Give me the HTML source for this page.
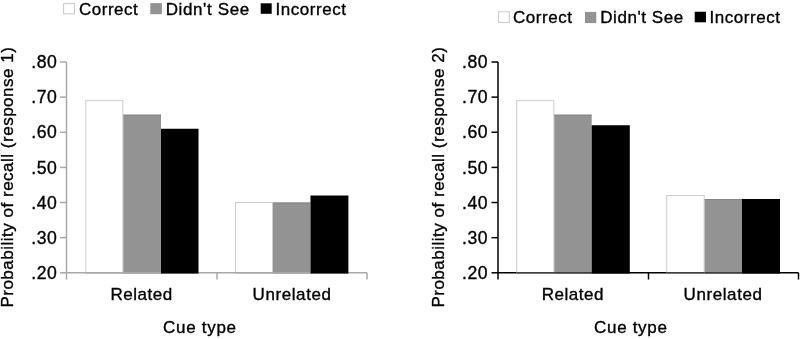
<!DOCTYPE html>
<html><head><meta charset="utf-8"><style>
html,body{margin:0;padding:0;background:#fff;width:800px;height:339px;overflow:hidden}
svg{display:block}
#w{width:800px;height:339px;background:#fff}
</style></head><body>
<div id="w">
<svg width="800" height="339" viewBox="0 0 800 339" font-family="'Liberation Sans', Arial, sans-serif" font-size="17" fill="#000">
<rect width="800" height="339" fill="#fff"/>
<rect x="63.60" y="3.60" width="10.90" height="10.30" fill="#fff" stroke="#c8c8c8" stroke-width="1"/>
<rect x="150.30" y="3.10" width="11.60" height="11.10" fill="#939393"/>
<rect x="260.70" y="3.30" width="11.00" height="10.50" fill="#000"/>
<text x="79.08" y="15.00" letter-spacing="0.492" stroke="#000" stroke-width="0.35">Correct</text>
<text x="165.68" y="15.00" letter-spacing="0.622" stroke="#000" stroke-width="0.35">Didn't See</text>
<text x="275.46" y="15.00" letter-spacing="0.552" stroke="#000" stroke-width="0.35">Incorrect</text>
<rect x="498.60" y="11.80" width="10.65" height="10.80" fill="#fff" stroke="#c8c8c8" stroke-width="1"/>
<rect x="585.00" y="11.90" width="11.25" height="11.20" fill="#939393"/>
<rect x="694.70" y="11.75" width="11.30" height="10.55" fill="#000"/>
<text x="513.08" y="23.40" letter-spacing="0.517" stroke="#000" stroke-width="0.35">Correct</text>
<text x="600.28" y="23.40" letter-spacing="0.556" stroke="#000" stroke-width="0.35">Didn't See</text>
<text x="709.46" y="23.40" letter-spacing="0.553" stroke="#000" stroke-width="0.35">Incorrect</text>
<g stroke="#a8a8a8" stroke-width="1.5" fill="none">
<line x1="66.5" y1="62" x2="66.5" y2="279.5"/>
<line x1="60.0" y1="62.00" x2="66.5" y2="62.00"/>
<line x1="60.0" y1="97.13" x2="66.5" y2="97.13"/>
<line x1="60.0" y1="132.27" x2="66.5" y2="132.27"/>
<line x1="60.0" y1="167.40" x2="66.5" y2="167.40"/>
<line x1="60.0" y1="202.53" x2="66.5" y2="202.53"/>
<line x1="60.0" y1="237.67" x2="66.5" y2="237.67"/>
<line x1="60.0" y1="272.80" x2="66.5" y2="272.80"/>
<line x1="66.5" y1="272.8" x2="367.0" y2="272.8"/>
<line x1="217.0" y1="272.8" x2="217.0" y2="279.5"/>
<line x1="367.0" y1="272.8" x2="367.0" y2="279.5"/>
</g>
<rect x="85.80" y="100.65" width="37.00" height="172.40" fill="#fff" stroke="#cdcdcd" stroke-width="1"/>
<line x1="85.30" y1="272.8" x2="123.30" y2="272.8" stroke="#a8a8a8" stroke-width="1.5"/>
<rect x="123.30" y="114.70" width="37.70" height="158.85" fill="#939393"/>
<line x1="123.30" y1="115.20" x2="161.00" y2="115.20" stroke="#858585" stroke-width="1"/>
<line x1="123.30" y1="272.8" x2="161.00" y2="272.8" stroke="#a8a8a8" stroke-width="1.5"/>
<rect x="161.00" y="128.75" width="37.50" height="144.80" fill="#000"/>
<rect x="235.50" y="202.53" width="37.00" height="70.52" fill="#fff" stroke="#cdcdcd" stroke-width="1"/>
<line x1="235.00" y1="272.8" x2="273.00" y2="272.8" stroke="#a8a8a8" stroke-width="1.5"/>
<rect x="273.00" y="202.53" width="37.50" height="71.02" fill="#939393"/>
<line x1="273.00" y1="203.03" x2="310.50" y2="203.03" stroke="#858585" stroke-width="1"/>
<line x1="273.00" y1="272.8" x2="310.50" y2="272.8" stroke="#a8a8a8" stroke-width="1.5"/>
<rect x="310.50" y="195.51" width="37.90" height="78.04" fill="#000"/>
<text x="31.31" y="68.20" font-size="17.6" letter-spacing="0.5" stroke="#000" stroke-width="0.35">.80</text>
<text x="31.31" y="103.33" font-size="17.6" letter-spacing="0.5" stroke="#000" stroke-width="0.35">.70</text>
<text x="31.31" y="138.47" font-size="17.6" letter-spacing="0.5" stroke="#000" stroke-width="0.35">.60</text>
<text x="31.31" y="173.60" font-size="17.6" letter-spacing="0.5" stroke="#000" stroke-width="0.35">.50</text>
<text x="31.31" y="208.73" font-size="17.6" letter-spacing="0.5" stroke="#000" stroke-width="0.35">.40</text>
<text x="31.31" y="243.87" font-size="17.6" letter-spacing="0.5" stroke="#000" stroke-width="0.35">.30</text>
<text x="31.31" y="279.00" font-size="17.6" letter-spacing="0.5" stroke="#000" stroke-width="0.35">.20</text>
<text x="110.58" y="299.70" letter-spacing="0.495" stroke="#000" stroke-width="0.35">Related</text>
<text x="252.58" y="299.70" letter-spacing="0.584" stroke="#000" stroke-width="0.35">Unrelated</text>
<text x="163.08" y="332.80" letter-spacing="0.7" stroke="#000" stroke-width="0.35">Cue type</text>
<text transform="translate(13.40 307.62) rotate(-90)" letter-spacing="0.506" stroke="#000" stroke-width="0.35">Probability of recall (response 1)</text>
<g stroke="#000" stroke-width="1.5" fill="none">
<line x1="498.0" y1="62" x2="498.0" y2="279.5"/>
<line x1="491.5" y1="62.00" x2="498.0" y2="62.00"/>
<line x1="491.5" y1="97.13" x2="498.0" y2="97.13"/>
<line x1="491.5" y1="132.27" x2="498.0" y2="132.27"/>
<line x1="491.5" y1="167.40" x2="498.0" y2="167.40"/>
<line x1="491.5" y1="202.53" x2="498.0" y2="202.53"/>
<line x1="491.5" y1="237.67" x2="498.0" y2="237.67"/>
<line x1="491.5" y1="272.80" x2="498.0" y2="272.80"/>
<line x1="498.0" y1="272.8" x2="798.5" y2="272.8"/>
<line x1="648.5" y1="272.8" x2="648.5" y2="279.5"/>
<line x1="798.5" y1="272.8" x2="798.5" y2="279.5"/>
</g>
<rect x="516.70" y="100.65" width="37.10" height="172.40" fill="#fff" stroke="#cdcdcd" stroke-width="1"/>
<line x1="516.20" y1="272.8" x2="554.30" y2="272.8" stroke="#404040" stroke-width="1.5"/>
<rect x="554.30" y="114.70" width="37.40" height="158.85" fill="#939393"/>
<line x1="554.30" y1="115.20" x2="591.70" y2="115.20" stroke="#858585" stroke-width="1"/>
<line x1="554.30" y1="272.8" x2="591.70" y2="272.8" stroke="#404040" stroke-width="1.5"/>
<rect x="591.70" y="125.24" width="38.10" height="148.31" fill="#000"/>
<rect x="666.70" y="195.51" width="37.50" height="77.54" fill="#fff" stroke="#cdcdcd" stroke-width="1"/>
<line x1="666.20" y1="272.8" x2="704.70" y2="272.8" stroke="#404040" stroke-width="1.5"/>
<rect x="704.70" y="199.02" width="37.30" height="74.53" fill="#939393"/>
<line x1="704.70" y1="199.52" x2="742.00" y2="199.52" stroke="#858585" stroke-width="1"/>
<line x1="704.70" y1="272.8" x2="742.00" y2="272.8" stroke="#404040" stroke-width="1.5"/>
<rect x="742.00" y="199.02" width="38.00" height="74.53" fill="#000"/>
<text x="462.01" y="68.20" font-size="17.6" letter-spacing="0.5" stroke="#000" stroke-width="0.35">.80</text>
<text x="462.01" y="103.33" font-size="17.6" letter-spacing="0.5" stroke="#000" stroke-width="0.35">.70</text>
<text x="462.01" y="138.47" font-size="17.6" letter-spacing="0.5" stroke="#000" stroke-width="0.35">.60</text>
<text x="462.01" y="173.60" font-size="17.6" letter-spacing="0.5" stroke="#000" stroke-width="0.35">.50</text>
<text x="462.01" y="208.73" font-size="17.6" letter-spacing="0.5" stroke="#000" stroke-width="0.35">.40</text>
<text x="462.01" y="243.87" font-size="17.6" letter-spacing="0.5" stroke="#000" stroke-width="0.35">.30</text>
<text x="462.01" y="279.00" font-size="17.6" letter-spacing="0.5" stroke="#000" stroke-width="0.35">.20</text>
<text x="541.78" y="299.70" letter-spacing="0.528" stroke="#000" stroke-width="0.35">Related</text>
<text x="683.58" y="299.70" letter-spacing="0.584" stroke="#000" stroke-width="0.35">Unrelated</text>
<text x="594.08" y="332.80" letter-spacing="0.679" stroke="#000" stroke-width="0.35">Cue type</text>
<text transform="translate(443.80 307.62) rotate(-90)" letter-spacing="0.506" stroke="#000" stroke-width="0.35">Probability of recall (response 2)</text>
</svg>
</div>
</body></html>
